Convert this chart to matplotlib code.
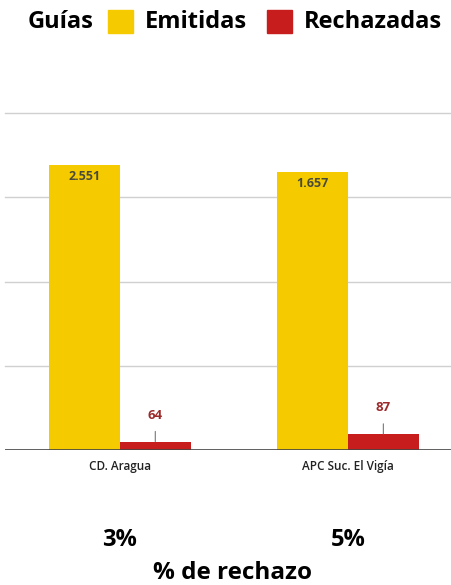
import matplotlib
matplotlib.use("Agg")
import matplotlib.pyplot as plt
from matplotlib.patches import Rectangle

categorias = ["CD. Aragua", "APC Suc. El Vigía"]
emitidas = [2551, 1657]
rechazadas = [64, 87]
# bar heights as drawn in the reference (grid units)
altura_emitidas = [3.38, 3.30]
altura_rechazadas = [0.10, 0.19]
pct_rechazo = ["3%", "5%"]
etiquetas_emitidas = ["2.551", "1.657"]
etiquetas_rechazadas = ["64", "87"]

AMARILLO = "#F5CB00"
ROJO = "#C81D1D"
FONT = ["Open Sans", "DejaVu Sans"]
plt.rcParams['font.family'] = FONT

fig = plt.figure(figsize=(4.52, 5.85), dpi=100)
ax = fig.add_axes([5/452, (585-450)/585, 447/452, (450-113)/585])

x = list(range(len(categorias)))
w = 0.31
ax.bar([i - w/2 for i in x], altura_emitidas, width=w, color=AMARILLO, zorder=3)
ax.bar([i + w/2 for i in x], altura_rechazadas, width=w, color=ROJO, zorder=3)

ax.set_xlim(-0.504, 1.456)
ax.set_ylim(0, 4)
for g in [1, 2, 3, 4]:
    ax.axhline(g, color="#d0d0d0", lw=1, zorder=1, clip_on=False)
ax.axhline(0, color="#444444", lw=1.2, zorder=4)
for s in ax.spines.values():
    s.set_visible(False)
ax.set_yticks([])
ax.set_xticks(x)
ax.set_xticklabels(categorias, fontsize=8.5, color="#222222", fontweight="semibold")
ax.tick_params(axis="x", length=0, pad=7)

for i in x:
    ax.annotate(etiquetas_emitidas[i], (i - w/2, altura_emitidas[i]), xytext=(0, -8),
                textcoords="offset points", ha="center", va="center",
                fontsize=9, fontweight="bold", color="#4a4a3a", zorder=5)
    ax.annotate(etiquetas_rechazadas[i], (i + w/2, altura_rechazadas[i]), xytext=(0, 19),
                textcoords="offset points", ha="center", va="center",
                fontsize=9.5, fontweight="bold", color="#9c2a2a", zorder=5,
                arrowprops=dict(arrowstyle="-", color="#777777", lw=0.8,
                                shrinkA=5, shrinkB=0))

# legend
fig.text(28/452, 1 - 22/585, "Guías", fontsize=17, fontweight="bold", va="center", ha="left")
fig.patches.append(Rectangle((108/452, 1 - 33/585), 25/452, 23/585, transform=fig.transFigure,
                             color=AMARILLO, figure=fig))
fig.text(145/452, 1 - 22/585, "Emitidas", fontsize=17, fontweight="bold", va="center", ha="left")
fig.patches.append(Rectangle((267/452, 1 - 33/585), 25/452, 23/585, transform=fig.transFigure,
                             color=ROJO, figure=fig))
fig.text(304/452, 1 - 22/585, "Rechazadas", fontsize=17, fontweight="bold", va="center", ha="left")

# percentages
for i in x:
    xp = ax.transData.transform((i, 0))[0] / fig.bbox.width
    fig.text(xp, 1 - 540/585, pct_rechazo[i], fontsize=17, fontweight="bold", ha="center", va="center")
fig.text(233/452, 1 - 573/585, "% de rechazo", fontsize=17.5, fontweight="bold", ha="center", va="center")

fig.savefig("out.png", dpi=100)
